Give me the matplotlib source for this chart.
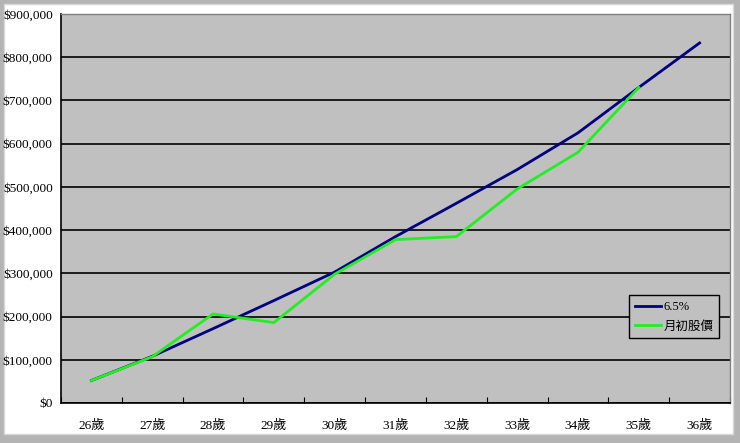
import numpy as np
import matplotlib.pyplot as plt
from matplotlib.patches import Rectangle
from matplotlib.ticker import FuncFormatter

plt.rcParams['font.family'] = ['Liberation Serif', 'Noto Sans CJK TC']

# data
ages = ["26歲", "27歲", "28歲", "29歲", "30歲", "31歲", "32歲", "33歲", "34歲", "35歲", "36歲"]
rate_line = [52000, 108000, 172000, 237000, 303000, 385000, 462000, 540000, 625000, 730000, 833000]
price_line = [52000, 107000, 206000, 186000, 298000, 378000, 385000, 495000, 580000, 730000, np.nan]
yticks = [0, 100000, 200000, 300000, 400000, 500000, 600000, 700000, 800000, 900000]

fig = plt.figure(figsize=(7.4, 4.43), dpi=100)
fig.patch.set_facecolor("#b4b4b4")
# white card with gray frame around it
card = Rectangle((4/740, 1 - 434/443), 729/740, 430/443, transform=fig.transFigure,
                 facecolor="white", edgecolor="#d8d8d8", linewidth=1, zorder=-5)
fig.add_artist(card)

ax = fig.add_axes([61/740, 1 - 403/443, 669/740, 389/443])
ax.set_zorder(2)
ax.set_facecolor("#c0c0c0")

x = np.arange(len(ages))
ax.plot(x, rate_line, color="#000080", linewidth=2.0, label="6.5%", zorder=3)
ax.plot(x, price_line, color="#22ee22", linewidth=2.0, label="月初股價", zorder=4)

ax.set_xlim(-0.5, len(ages) - 0.5)
ax.set_ylim(0, 900000)
ax.set_yticks(yticks)
ax.yaxis.set_major_formatter(FuncFormatter(lambda v, p: "${:,.0f}".format(v)))
ax.grid(axis="y", color="black", linewidth=1.2)
ax.set_axisbelow(True)

# tick marks between categories, labels at centres
ax.set_xticks(np.arange(-0.5, len(ages), 1))
ax.set_xticklabels([])
ax.set_xticks(x, minor=True)
ax.set_xticklabels(ages, minor=True, fontsize=9.5)
ax.tick_params(axis="x", which="major", direction="in", length=4, color="black")
ax.tick_params(axis="x", which="minor", length=0, pad=12)
ax.tick_params(axis="y", length=0, pad=6, labelsize=9.5)

for s in ["left", "bottom"]:
    ax.spines[s].set_color("black")
    ax.spines[s].set_linewidth(1.2)
for s in ["top", "right"]:
    ax.spines[s].set_color("#808080")
    ax.spines[s].set_linewidth(1.0)

leg = ax.legend(loc="lower left", bbox_to_anchor=(0.849, 0.167), borderaxespad=0, fontsize=9,
                fancybox=False, framealpha=1, facecolor="#c0c0c0", edgecolor="black",
                handlelength=2.1, handletextpad=0.2, borderpad=0.45, labelspacing=0.6)
leg.get_frame().set_linewidth(1.0)

fig.savefig("out.png", dpi=100, facecolor=fig.get_facecolor())
